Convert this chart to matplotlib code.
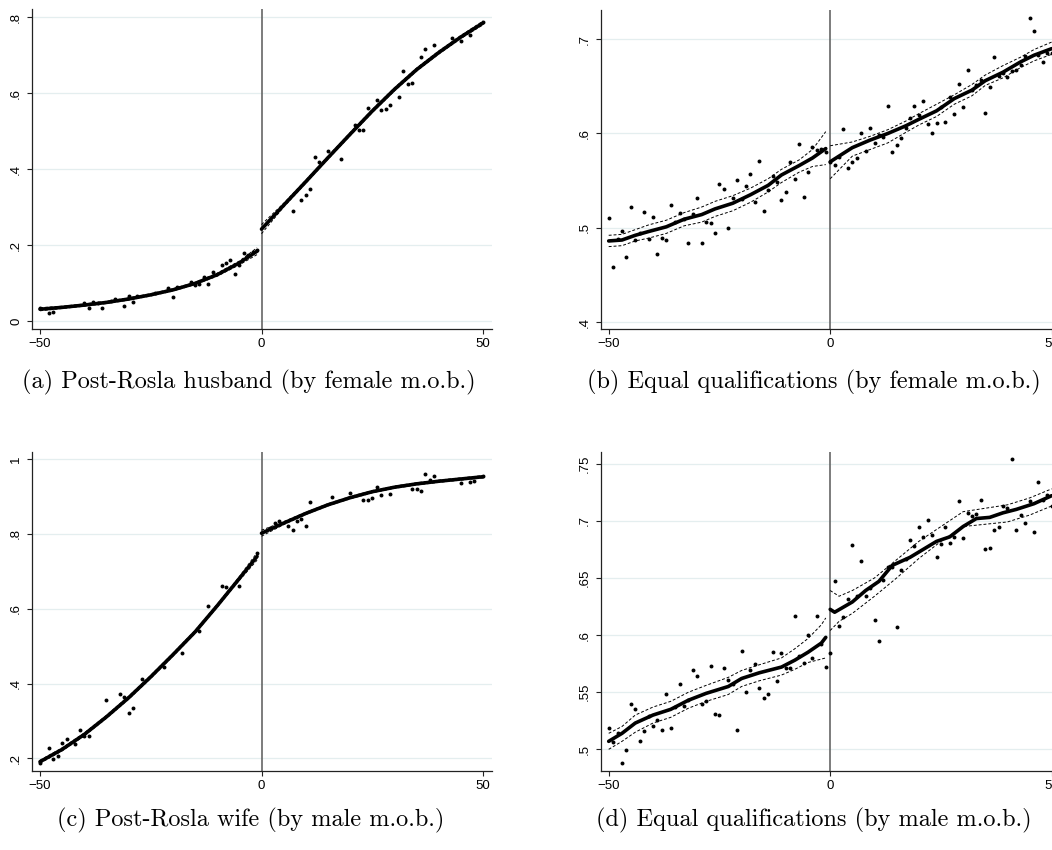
import matplotlib
matplotlib.use("Agg")
import matplotlib.pyplot as plt
import numpy as np

# ---------------- Panel (a): Post-Rosla husband (by female m.o.b.) ----------------
a_fit_left_x = [-50, -45, -40, -35, -30, -25, -20, -15, -10, -5, -1]
a_fit_left_y = [.031, .036, .042, .049, .058, .069, .082, .099, .122, .153, .184]
a_ci_left_hi = [.035, .039, .045, .052, .061, .072, .085, .102, .126, .158, .193]
a_ci_left_lo = [.027, .033, .039, .046, .055, .066, .079, .096, .118, .148, .175]
a_fit_right_x = [0, 5, 10, 15, 20, 25, 30, 35, 40, 45, 50]
a_fit_right_y = [.242, .305, .367, .430, .492, .553, .610, .662, .707, .748, .785]
a_ci_right_hi = [.254, .310, .371, .434, .496, .557, .614, .666, .711, .752, .790]
a_ci_right_lo = [.230, .300, .363, .426, .488, .549, .606, .658, .703, .744, .780]
a_pts_x = [-50, -48, -47, -40, -39, -38, -37, -36, -34, -33, -31, -30, -29, -28, -24, -21, -20,
           -19, -16, -15, -14, -13, -12, -11, -9, -8, -7, -6, -5, -4, -3, -2, -1,
           7, 9, 10, 11, 12, 13, 15, 18, 21, 22, 23, 24, 26, 27, 28, 29, 31, 32, 33, 34,
           36, 37, 39, 43, 45, 47, 50]
a_pts_y = [.033, .020, .025, .048, .033, .051, .048, .033, .053, .057, .039, .067, .051, .066, .075, .086, .062,
           .090, .103, .095, .097, .117, .097, .130, .147, .152, .161, .125, .147, .178, .174, .182, .187,
           .289, .318, .331, .349, .432, .419, .449, .428, .517, .502, .504, .562, .581, .555, .559, .568, .589, .659, .624, .628,
           .695, .717, .726, .745, .737, .754, .787]

# ---------------- Panel (b): Equal qualifications (by female m.o.b.) ----------------
b_fit_left_x = [-50, -47, -44, -41, -37, -33, -29, -26, -22, -18, -14, -11, -7, -4, -1]
b_fit_left_y = [.486, .487, .492, .496, .501, .509, .514, .520, .526, .535, .545, .556, .566, .574, .584]
b_ci_left_hi = [.492, .493, .498, .503, .508, .516, .522, .528, .534, .542, .552, .562, .572, .583, .602]
b_ci_left_lo = [.480, .481, .486, .489, .494, .502, .506, .512, .518, .527, .538, .548, .559, .565, .567]
b_fit_right_x = [0, 5, 9, 13, 17, 20, 24, 28, 32, 35, 39, 43, 46, 50]
b_fit_right_y = [.570, .585, .593, .600, .608, .615, .624, .637, .646, .656, .665, .676, .683, .690]
b_ci_right_hi = [.587, .591, .597, .604, .613, .621, .631, .641, .652, .662, .672, .681, .689, .697]
b_ci_right_lo = [.552, .576, .583, .590, .601, .609, .618, .631, .640, .651, .659, .670, .677, .684]
b_pts_x = list(range(-50, 51))
b_pts_y = [.510, .458, .488, .497, .469, .522, .487, .494, .517, .488,
           .511, .472, .489, .487, .524, .506, .516, .509, .484, .515,
           .532, .484, .506, .505, .494, .546, .541, .500, .532, .551,
           .531, .544, .557, .527, .571, .518, .540, .555, .549, .529,
           .538, .570, .552, .589, .533, .559, .586, .582, .584, .580,
           .570, .567, .575, .605, .563, .570, .574, .601, .581, .606,
           .590, .598, .596, .629, .580, .588, .595, .606, .616, .629,
           .620, .634, .610, .601, .611, .628, .612, .639, .621, .652,
           .628, .667, .646, .651, .657, .622, .649, .681, .661, .664,
           .660, .666, .667, .673, .682, .723, .709, .683, .676, .685, .685]

# ---------------- Panel (c): Post-Rosla wife (by male m.o.b.) ----------------
c_fit_left_x = [-50, -45, -40, -35, -30, -25, -20, -15, -10, -5, -1]
c_fit_left_y = [.191, .224, .264, .311, .362, .418, .477, .538, .608, .681, .740]
c_ci_left_hi = [.195, .228, .268, .315, .366, .422, .481, .542, .612, .686, .750]
c_ci_left_lo = [.187, .220, .260, .307, .358, .414, .473, .534, .604, .676, .730]
c_fit_right_x = [0, 5, 10, 15, 20, 25, 30, 35, 40, 45, 50]
c_fit_right_y = [.802, .829, .855, .878, .897, .913, .925, .934, .941, .947, .953]
c_ci_right_hi = [.810, .833, .858, .881, .900, .916, .928, .937, .944, .950, .956]
c_ci_right_lo = [.794, .825, .852, .875, .894, .910, .922, .931, .938, .944, .950]
c_pts_x = [-50, -48, -47, -46, -45, -44, -42, -41, -40, -39, -35, -32, -31, -30, -29, -27, -22,
           -18, -14, -12, -9, -8, -5, -1,
           2, 3, 4, 6, 7, 8, 9, 10, 11, 16, 20, 23, 24, 25, 26, 27, 29, 34, 35, 36, 37,
           38, 39, 45, 47, 48, 50]
c_pts_y = [.188, .227, .198, .206, .242, .252, .239, .276, .260, .260, .356, .372, .365, .322, .334, .411, .443,
           .481, .541, .608, .661, .658, .662, .748,
           .815, .830, .835, .821, .811, .835, .840, .822, .886, .899, .910, .892, .890, .896, .925, .905, .906,
           .919, .919, .914, .961, .943, .954, .937, .938, .942, .955]

# ---------------- Panel (d): Equal qualifications (by male m.o.b.) ----------------
d_fit_left_x = [-50, -47, -44, -40, -36, -32, -28, -23, -20, -16, -11, -8, -5, -2, -1]
d_fit_left_y = [.507, .514, .523, .530, .535, .543, .549, .555, .562, .567, .572, .578, .585, .593, .598]
d_ci_left_hi = [.514, .520, .530, .537, .542, .550, .556, .563, .569, .574, .580, .588, .597, .609, .615]
d_ci_left_lo = [.500, .507, .515, .523, .528, .536, .542, .548, .555, .560, .565, .570, .576, .579, .580]
d_fit_right_x = [0, 1, 5, 8, 11, 14, 18, 21, 24, 27, 30, 33, 36, 39, 42, 46, 50]
d_fit_right_y = [.6225, .620, .629, .639, .647, .661, .668, .675, .682, .686, .695, .702, .703, .707, .710, .715, .722]
d_ci_x = [0, 2, 5, 10, 15, 20, 25, 30, 35, 40, 45, 50]
d_ci_right_hi = [.639, .634, .639, .650, .666, .682, .695, .708, .711, .714, .720, .728]
d_ci_right_lo = [.604, .612, .619, .634, .650, .667, .682, .695, .697, .699, .705, .713]
d_pts_x = list(range(-50, 51))
d_pts_y = [.519, .506, .514, .488, .499, .540, .535, .507, .516, .529,
           .520, .526, .517, .548, .519, .537, .557, .538, .543, .569,
           .564, .540, .542, .573, .531, .530, .571, .561, .557, .517,
           .586, .550, .569, .575, .554, .545, .548, .585, .560, .584,
           .571, .571, .617, .582, .576, .600, .580, .617, .592, .572,
           .584, .647, .608, .616, .632, .679, .634, .665, .634, .641,
           .613, .595, .648, .660, .660, .607, .657, .667, .683, .678,
           .695, .686, .701, .688, .668, .680, .695, .681, .686, .717,
           .685, .707, .704, .706, .718, .675, .676, .692, .695, .713,
           .711, .754, .692, .705, .698, .717, .690, .734, .718, .723, .713]

x_ticks = [-50, 0, 50]
x_tick_labels = ["\u221250", "0", "50"]
a_yticks = [0, .2, .4, .6, .8];        a_ylabels = ["0", ".2", ".4", ".6", ".8"]
b_yticks = [.4, .5, .6, .7];           b_ylabels = [".4", ".5", ".6", ".7"]
c_yticks = [.2, .4, .6, .8, 1];        c_ylabels = [".2", ".4", ".6", ".8", "1"]
d_yticks = [.5, .55, .6, .65, .7, .75]; d_ylabels = [".5", ".55", ".6", ".65", ".7", ".75"]

captions = ["(a) Post-Rosla husband (by female m.o.b.)",
            "(b) Equal qualifications (by female m.o.b.)",
            "(c) Post-Rosla wife (by male m.o.b.)",
            "(d) Equal qualifications (by male m.o.b.)"]

W, H = 1052, 850
fig = plt.figure(figsize=(W / 100, H / 100), dpi=100)
fig.patch.set_facecolor("white")

XLIM = (-51.7, 52.0)
PXU = 4.43


def make_ax(x_m50_px, top, bottom):
    left = x_m50_px - (-50 - XLIM[0]) * PXU
    width = (XLIM[1] - XLIM[0]) * PXU
    return fig.add_axes([left / W, 1 - bottom / H, width / W, (bottom - top) / H])


def style(ax, ylim, yt, yl):
    ax.set_xlim(*XLIM)
    ax.set_ylim(*ylim)
    for s in ("top", "right"):
        ax.spines[s].set_visible(False)
    for s in ("left", "bottom"):
        ax.spines[s].set_color("#222222")
        ax.spines[s].set_linewidth(0.9)
    ax.set_xticks(x_ticks)
    ax.set_xticklabels(x_tick_labels, fontsize=9.5, family="Liberation Sans")
    ax.set_yticks(yt)
    ax.set_yticklabels(yl, fontsize=9.5, family="Liberation Sans", rotation=90, va="center")
    ax.tick_params(direction="out", length=3.5, width=0.8, color="#222222", pad=3)
    ax.tick_params(axis="y", pad=4)
    for y in yt:
        ax.axhline(y, color="#e4eeef", lw=0.9, zorder=0)
    ax.axvline(0, color="#666666", lw=1.2, zorder=1)


def draw(ax, lx, ly, lhi, llo, rx, ry, rhi, rlo, px, py, rcx=None):
    ax.scatter(px, py, s=8, color="black", linewidths=0, zorder=3)
    ax.plot(lx, lhi, color="black", lw=0.7, ls=(0, (3, 2)), zorder=2)
    ax.plot(lx, llo, color="black", lw=0.7, ls=(0, (3, 2)), zorder=2)
    cx = rx if rcx is None else rcx
    ax.plot(cx, rhi, color="black", lw=0.7, ls=(0, (3, 2)), zorder=2)
    ax.plot(cx, rlo, color="black", lw=0.7, ls=(0, (3, 2)), zorder=2)
    ax.plot(lx, ly, color="black", lw=2.6, solid_capstyle="round", zorder=4)
    ax.plot(rx, ry, color="black", lw=2.6, solid_capstyle="round", zorder=4)


ax_a = make_ax(40, 9.3, 329)
style(ax_a, (-0.021, 0.821), a_yticks, a_ylabels)
draw(ax_a, a_fit_left_x, a_fit_left_y, a_ci_left_hi, a_ci_left_lo,
     a_fit_right_x, a_fit_right_y, a_ci_right_hi, a_ci_right_lo, a_pts_x, a_pts_y)

ax_b = make_ax(608.7, 10, 329)
style(ax_b, (0.3926, 0.731), b_yticks, b_ylabels)
draw(ax_b, b_fit_left_x, b_fit_left_y, b_ci_left_hi, b_ci_left_lo,
     b_fit_right_x, b_fit_right_y, b_ci_right_hi, b_ci_right_lo, b_pts_x, b_pts_y)

ax_c = make_ax(40, 451.7, 770.7)
style(ax_c, (0.167, 1.020), c_yticks, c_ylabels)
draw(ax_c, c_fit_left_x, c_fit_left_y, c_ci_left_hi, c_ci_left_lo,
     c_fit_right_x, c_fit_right_y, c_ci_right_hi, c_ci_right_lo, c_pts_x, c_pts_y)

ax_d = make_ax(608.7, 451.7, 770.7)
style(ax_d, (0.4813, 0.7605), d_yticks, d_ylabels)
draw(ax_d, d_fit_left_x, d_fit_left_y, d_ci_left_hi, d_ci_left_lo,
     d_fit_right_x, d_fit_right_y, d_ci_right_hi, d_ci_right_lo, d_pts_x, d_pts_y, rcx=d_ci_x)

cap_pos = [(249, 382), (814, 382), (251, 820), (814, 820)]
for (cx, cy), txt in zip(cap_pos, captions):
    fig.text(cx / W, 1 - cy / H, txt, ha="center", va="center", fontsize=17.5, family="cmr10")

fig.savefig("out.png", dpi=100, facecolor="white")
